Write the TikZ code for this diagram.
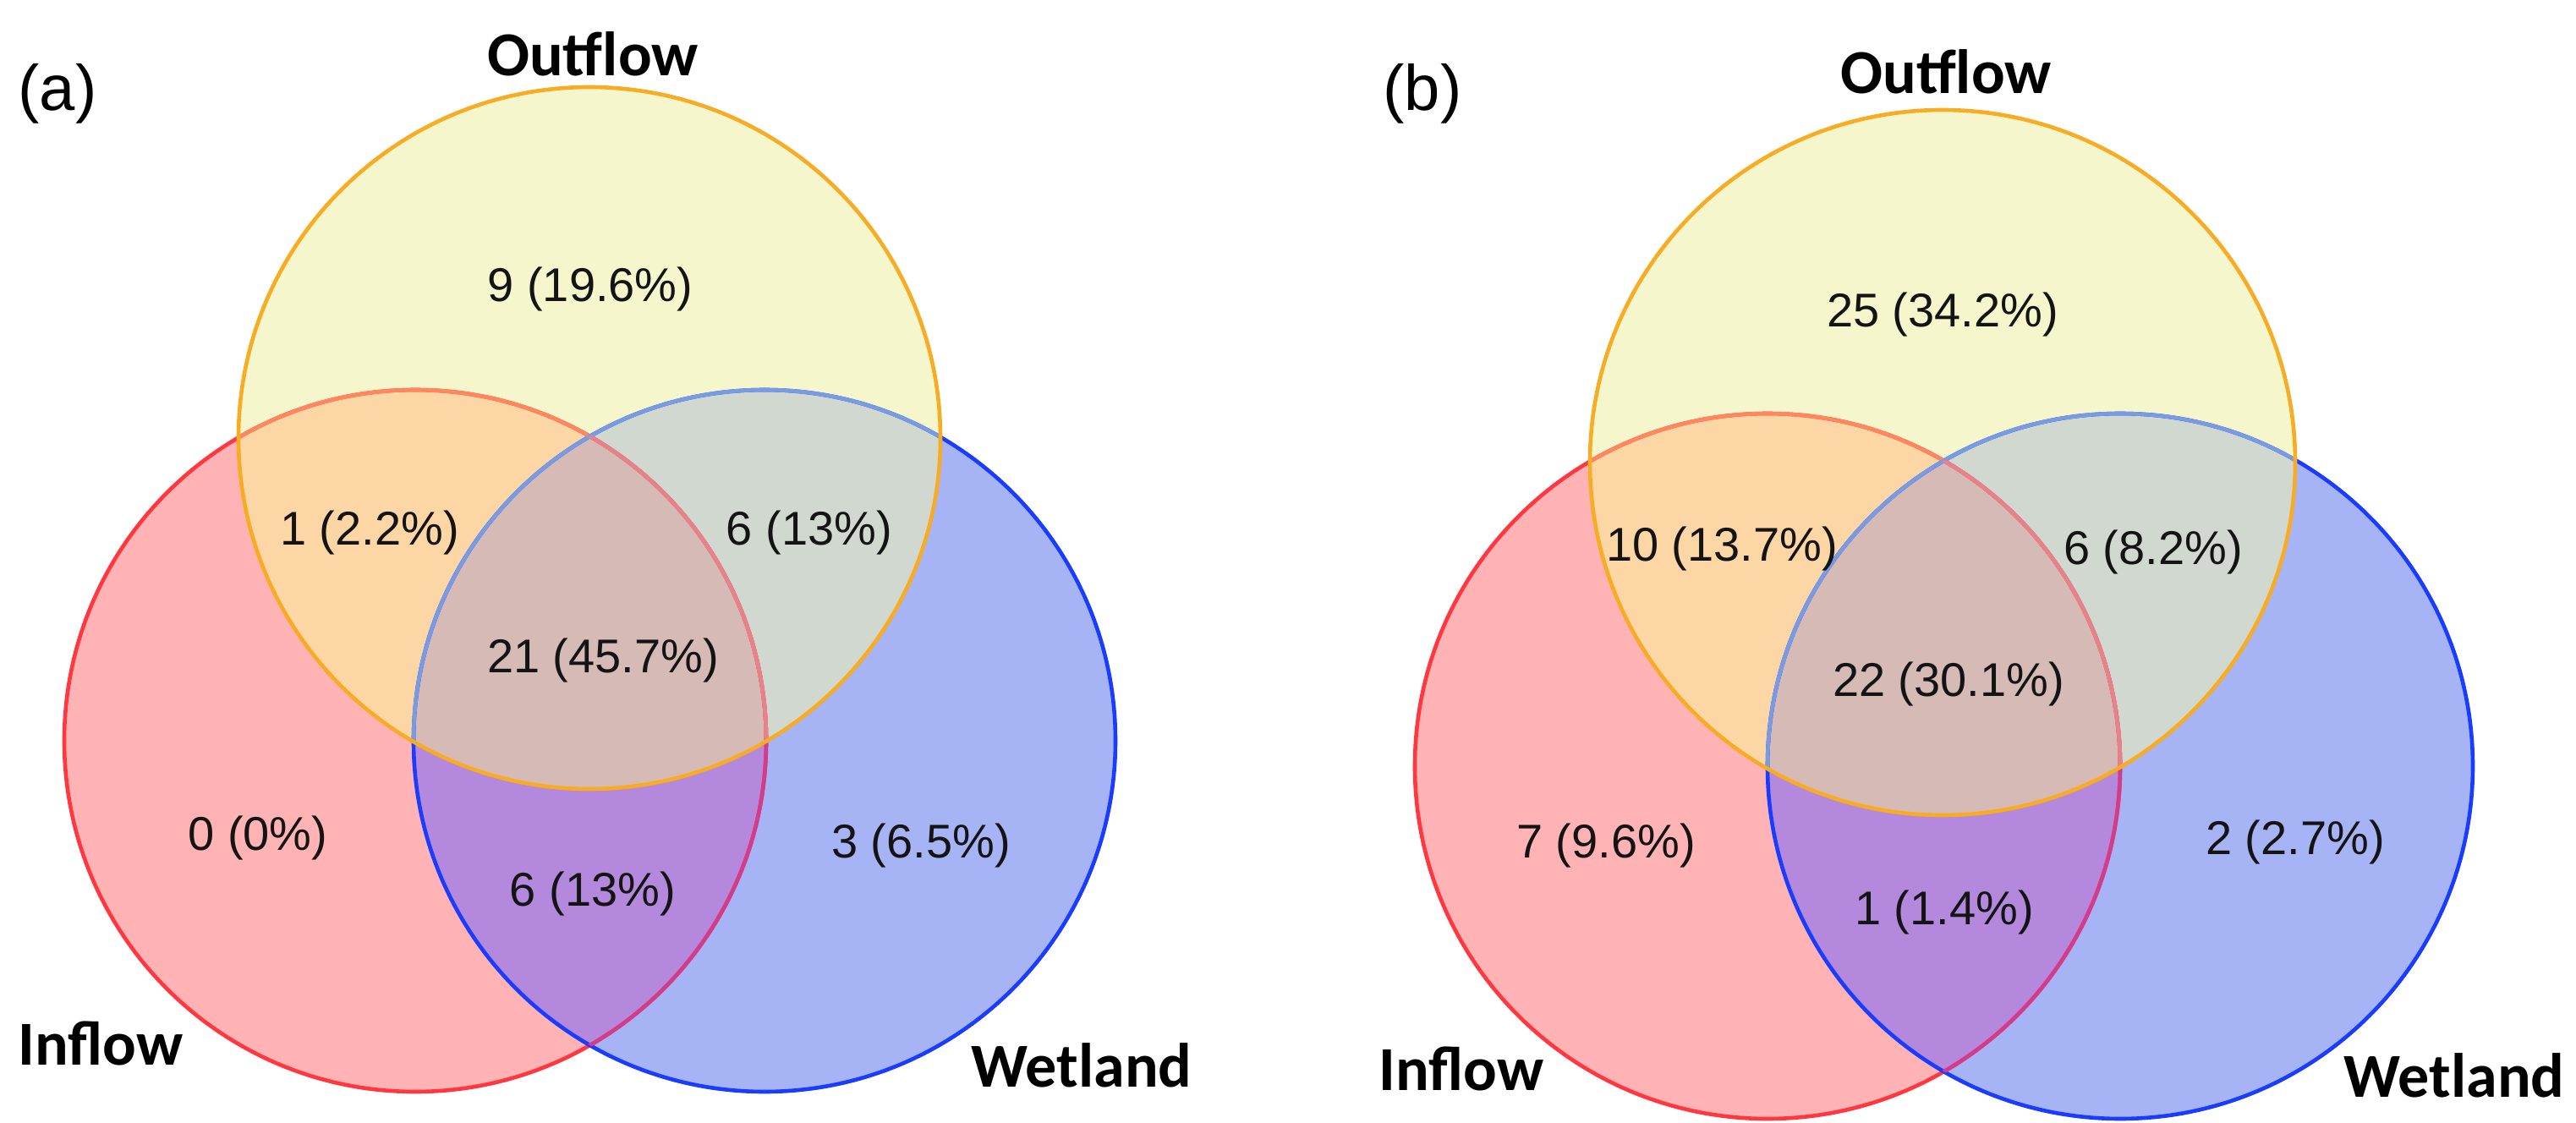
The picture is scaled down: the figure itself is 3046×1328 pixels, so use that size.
\documentclass[tikz,border=0pt]{standalone}
\usepackage{fontspec}
\setmainfont{Liberation Sans}
\newfontfamily\labfont{Carlito}
\definecolor{ofill}{RGB}{245,246,204}
\definecolor{ifill}{RGB}{255,179,181}
\definecolor{wfill}{RGB}{166,179,245}
\definecolor{iofill}{RGB}{253,214,165}
\definecolor{wofill}{RGB}{208,216,207}
\definecolor{iwfill}{RGB}{179,136,221}
\definecolor{allfill}{RGB}{214,186,181}
\definecolor{oline}{RGB}{247,172,35}
\definecolor{iline}{RGB}{255,55,65}
\definecolor{wline}{RGB}{25,60,255}
\definecolor{iwline}{RGB}{210,60,140}
\definecolor{ioline}{RGB}{255,135,95}
\definecolor{iallline}{RGB}{230,130,140}
\definecolor{woline}{RGB}{120,155,225}
\definecolor{txt}{RGB}{20,20,20}
\newcommand{\vennpanel}[5]{%
  % #1 prefix, #2 O centre, #3 I centre, #4 W centre, #5 radius
  \coordinate (#1O) at #2;
  \coordinate (#1I) at #3;
  \coordinate (#1W) at #4;
  \fill[ofill] (#1O) circle[radius=#5];
  \fill[ifill] (#1I) circle[radius=#5];
  \fill[wfill] (#1W) circle[radius=#5];
  \begin{scope}\clip (#1I) circle[radius=#5]; \fill[iofill] (#1O) circle[radius=#5];\end{scope}
  \begin{scope}\clip (#1W) circle[radius=#5]; \fill[wofill] (#1O) circle[radius=#5];\end{scope}
  \begin{scope}\clip (#1I) circle[radius=#5]; \fill[iwfill] (#1W) circle[radius=#5];\end{scope}
  \begin{scope}\clip (#1I) circle[radius=#5]; \clip (#1W) circle[radius=#5]; \fill[allfill] (#1O) circle[radius=#5];\end{scope}
  \draw[ring, iline] (#1I) circle[radius=#5];
  \draw[ring, wline] (#1W) circle[radius=#5];
  \begin{scope}\clip (#1W) circle[radius=#5]; \draw[ring, iwline] (#1I) circle[radius=#5];\end{scope}
  \begin{scope}\clip (#1O) circle[radius=#5]; \draw[ring, ioline] (#1I) circle[radius=#5]; \draw[ring, woline] (#1W) circle[radius=#5];\end{scope}
  \begin{scope}\clip (#1O) circle[radius=#5]; \clip (#1W) circle[radius=#5]; \draw[ring, iallline] (#1I) circle[radius=#5];\end{scope}
  \draw[ring, oline] (#1O) circle[radius=#5];
}
\begin{document}
\begin{tikzpicture}[x=0.25pt,y=-0.25pt,
  ring/.style={line width=1.15pt},
  num/.style={inner sep=0pt, text=txt, font=\fontsize{14}{16}\selectfont},
  setlab/.style={inner sep=0pt, font=\labfont\bfseries\fontsize{18.5}{22}\selectfont},
  panlab/.style={inner sep=0pt, font=\fontsize{19}{22}\selectfont}]
\useasboundingbox (0,0) rectangle (3046,1328);
\fill[white] (0,0) rectangle (3046,1328);
\vennpanel{a}{(697,518)}{(491,876)}{(904,876)}{103.75pt}
\vennpanel{b}{(2297,547)}{(2090,906)}{(2507,906)}{104.25pt}
% panel (a) texts
\node[panlab] (pa) at (68,111) {(a)};
\node[setlab] (aOut) at (701,64) {Outflow};
\node[setlab] (aIn) at (119,1234) {Inflow};
\node[setlab] (aWet) at (1279,1260) {Wetland};
\node[num] (a1) at (698,342) {9 (19.6\%)};
\node[num] (a2) at (437,630) {1 (2.2\%)};
\node[num] (a3) at (957,630) {6 (13\%)};
\node[num] (a4) at (713,781) {21 (45.7\%)};
\node[num] (a5) at (305,991) {0 (0\%)};
\node[num] (a6) at (701,1057) {6 (13\%)};
\node[num] (a7) at (1089,1000) {3 (6.5\%)};
% panel (b) texts
\node[panlab] (pb) at (1682,111) {(b)};
\node[setlab] (bOut) at (2301,85) {Outflow};
\node[setlab] (bIn) at (1728,1264) {Inflow};
\node[setlab] (bWet) at (2902,1272) {Wetland};
\node[num] (b1) at (2297,372) {25 (34.2\%)};
\node[num] (b2) at (2036,649) {10 (13.7\%)};
\node[num] (b3) at (2546,653) {6 (8.2\%)};
\node[num] (b4) at (2304,809) {22 (30.1\%)};
\node[num] (b5) at (1899,1000) {7 (9.6\%)};
\node[num] (b6) at (2299,1079) {1 (1.4\%)};
\node[num] (b7) at (2714,996) {2 (2.7\%)};
\end{tikzpicture}
\end{document}
